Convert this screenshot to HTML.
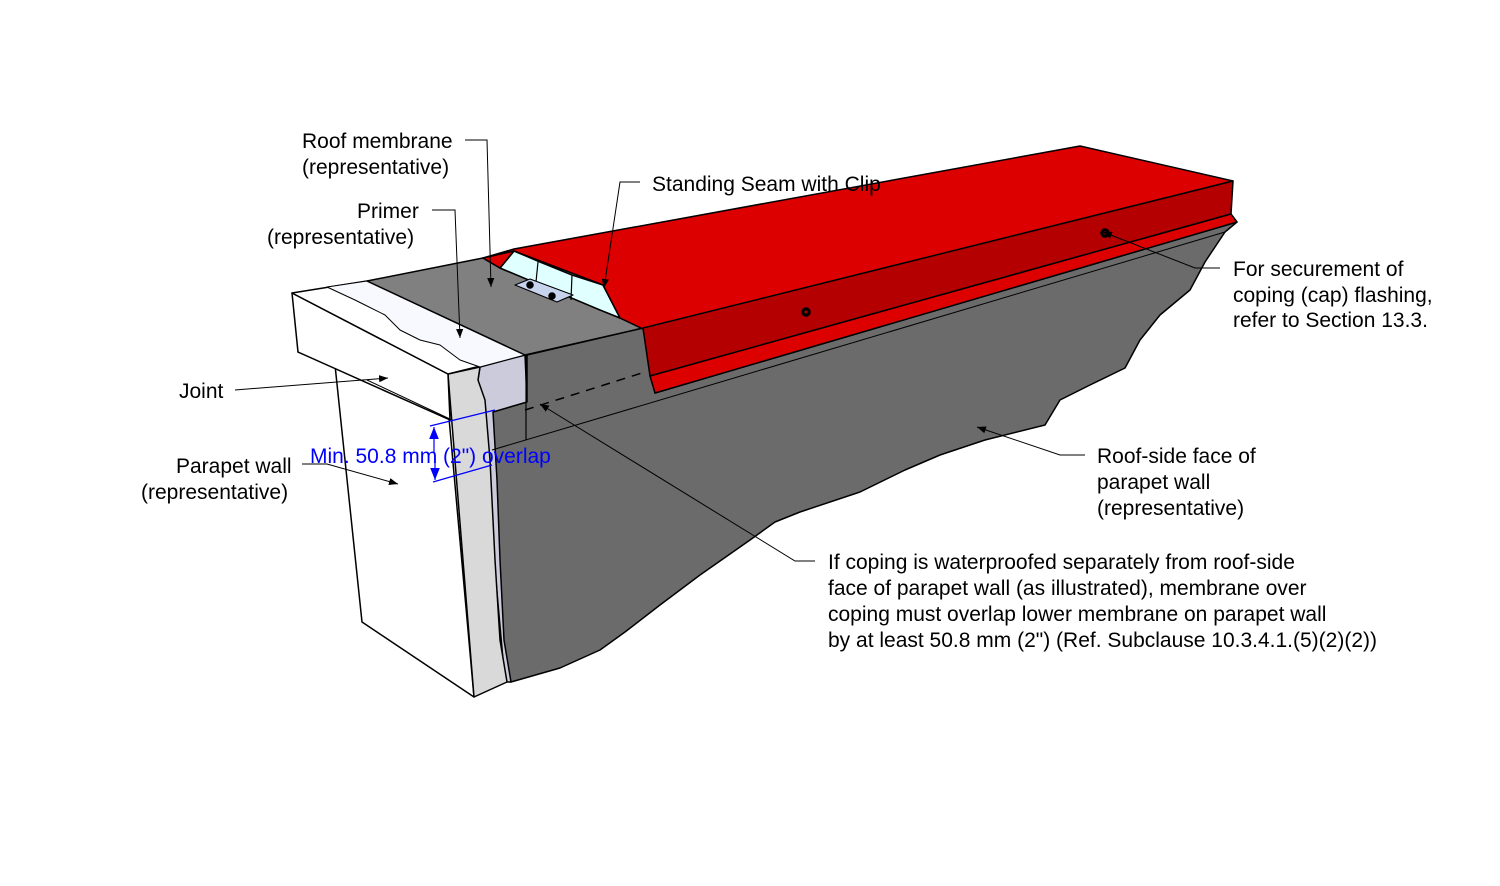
<!DOCTYPE html>
<html><head><meta charset="utf-8"><style>
html,body{margin:0;padding:0;background:#fff;}
svg{display:block;}
text{font-family:"Liberation Sans",sans-serif;font-size:21px;fill:#000;}
</style></head><body>
<svg width="1500" height="886" viewBox="0 0 1500 886" xmlns="http://www.w3.org/2000/svg">
<defs>
<marker id="a" viewBox="0 0 10 10" refX="10" refY="5" markerWidth="9" markerHeight="9" orient="auto" markerUnits="userSpaceOnUse"><path d="M0,1 L10,5 L0,9 z" fill="#000"/></marker>
<marker id="b" viewBox="0 0 10 10" refX="10" refY="5" markerWidth="12" markerHeight="12" orient="auto" markerUnits="userSpaceOnUse"><path d="M0,1 L10,5 L0,9 z" fill="#00f"/></marker>
</defs>
<g stroke="#000" stroke-width="1.5" stroke-linejoin="round">
<!-- lavender base -->
<path d="M480,367 L525,355 L527,400 L511,682 L505,682 L478,380 Z" fill="#cbcbdc"/>
<!-- roof-side dark face -->
<path d="M527,355 L643,328 L655,393 L1237,222 L1225,232 L1205,262 L1190,290 L1160,315 L1140,340 L1125,368 L1090,385 L1060,400 L1045,425 L985,440 L940,455 L905,470 L860,492 L800,512 L775,522 L750,540 L700,575 L660,605 L625,632 L600,650 L560,668 L511,682 L504,640 L500,560 L497,480 L493,412 L527,402 Z" fill="#6b6b6b"/>
<path d="M526,355 L526,440" fill="none" stroke-width="1.2"/>
<!-- parapet white face -->
<path d="M335,365 L362,622 L474,697 L449,418 L298,352 Z" fill="#fff"/>
<!-- light gray strip -->
<path d="M448,374 L480,367 L478,380 L485,400 L490,460 L495,560 L500,640 L507,682 L474,697 Z" fill="#d9d9d9"/>
<!-- coping band side -->
<path d="M292,293 L448,374 L450,420 L298,352 Z" fill="#fff"/>
<!-- top white face -->
<path d="M292,293 L367,281 L525,355 L448,374 Z" fill="#fff"/>
<path d="M327,287 L367,281 L525,355 L480,367 L460,360 L440,345 L420,340 L400,330 L385,315 L365,305 L355,300 Z" fill="#f8f8ff" stroke-width="1"/>
<!-- grey top -->
<path d="M367,281 L483,258 L500,268 L620,318 L643,328 L525,355 Z" fill="#808080"/>
<!-- seam -->
<path d="M500,268 L514,251 L540,262 L572,275 L603,285 L620,318 L600,310 Z" fill="#e0ffff"/>
<path d="M538,262 L536,282 M572,275 L571,300" fill="none" stroke-width="1.2"/>
<path d="M515,285 L530,279 L573,295 L557,302 Z" fill="#c8d4ee" stroke-width="1.2"/>
<circle cx="530" cy="285" r="3" fill="#000"/><circle cx="552" cy="296" r="3" fill="#000"/>
<!-- red top -->
<path d="M483,258 L514,249 L1080,146 L1233,181 L645,330 L620,318 L603,285 L514,251 L500,268 Z" fill="#dd0000"/>
<path d="M483,258 L514,251 L500,268 Z" fill="#dd0000"/>
<!-- red front -->
<path d="M643,328 L1233,181 L1231,214 L650,376 Z" fill="#b40000"/>
<path d="M650,376 L1231,214 L1237,222 L655,393 Z" fill="#dd0000"/>
<circle cx="806" cy="312" r="4" fill="#000"/><circle cx="806" cy="312" r="1.5" fill="#b40000" stroke="none"/>
<circle cx="1105" cy="233" r="4" fill="#000"/><circle cx="1105" cy="233" r="1.5" fill="#b40000" stroke="none"/>
</g>
<g stroke="#000" stroke-width="1" fill="none">
<path d="M492,450 L1225,232"/>
<path d="M525,410 L645,372" stroke-dasharray="9,7" stroke-width="1.5"/>
<path d="M367,380 L452,420"/>
<path d="M465,140 L487,140 L491,287" marker-end="url(#a)"/>
<path d="M432,210 L455,210 L460,338" marker-end="url(#a)"/>
<path d="M640,182 L620,182 L604,288" marker-end="url(#a)"/>
<path d="M235,390 L388,378" marker-end="url(#a)"/>
<path d="M302,464 L327,464 L398,484" marker-end="url(#a)"/>
<path d="M1220,268 L1195,268 L1103,232" marker-end="url(#a)"/>
<path d="M1085,455 L1060,455 L977,427" marker-end="url(#a)"/>
<path d="M815,561 L795,561 L540,404" marker-end="url(#a)"/>
</g>
<g stroke="#00f" stroke-width="1.2" fill="none">
<path d="M430,426 L495,410"/>
<path d="M433,482 L492,465"/>
<path d="M434,452 L434,427" marker-end="url(#b)"/>
<path d="M435,455 L435,480" marker-end="url(#b)"/>
</g>
<text x="302" y="148">Roof membrane</text>
<text x="302" y="174">(representative)</text>
<text x="357" y="218">Primer</text>
<text x="267" y="244">(representative)</text>
<text x="652" y="191">Standing Seam with Clip</text>
<text x="179" y="398">Joint</text>
<text x="176" y="473">Parapet wall</text>
<text x="141" y="499">(representative)</text>
<text x="310" y="463" style="fill:#00f">Min. 50.8 mm (2") overlap</text>
<text x="1233" y="276">For securement of</text>
<text x="1233" y="302">coping (cap) flashing,</text>
<text x="1233" y="327">refer to Section 13.3.</text>
<text x="1097" y="463">Roof-side face of</text>
<text x="1097" y="489">parapet wall</text>
<text x="1097" y="515">(representative)</text>
<text x="828" y="569">If coping is waterproofed separately from roof-side</text>
<text x="828" y="595">face of parapet wall (as illustrated), membrane over</text>
<text x="828" y="621">coping must overlap lower membrane on parapet wall</text>
<text x="828" y="647">by at least 50.8 mm (2") (Ref. Subclause 10.3.4.1.(5)(2)(2))</text>
</svg>
</body></html>
